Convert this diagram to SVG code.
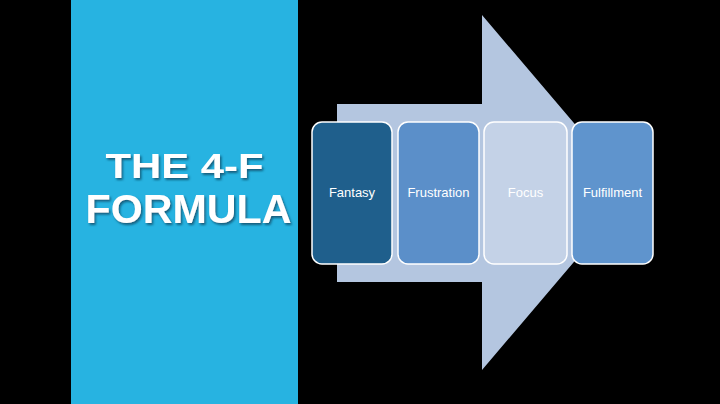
<svg xmlns="http://www.w3.org/2000/svg" width="720" height="404" viewBox="0 0 720 404">
  <defs>
    <filter id="shadow" x="-10%" y="-10%" width="120%" height="130%">
      <feDropShadow dx="1.5" dy="2" stdDeviation="1.2" flood-color="#0b4a66" flood-opacity="0.8"/>
    </filter>
  </defs>
  <style>
    .title { font-family: "Liberation Sans", Arial, sans-serif; font-weight: bold; fill: #ffffff; text-anchor: middle; }
    .box { stroke: #ffffff; stroke-width: 1.5; }
    .label { font-family: "Liberation Sans", Arial, sans-serif; font-size: 13px; fill: #ffffff; text-anchor: middle; }
  </style>
  <rect x="0" y="0" width="720" height="404" fill="#000000"/>
  <g id="panel">
    <rect x="71" y="0" width="227" height="404" fill="#27b3e1"/>
    <g filter="url(#shadow)">
      <text class="title" x="184.5" y="178" font-size="35" textLength="158" lengthAdjust="spacingAndGlyphs">THE 4-F</text>
      <text class="title" x="188.5" y="223" font-size="41" textLength="206" lengthAdjust="spacingAndGlyphs">FORMULA</text>
    </g>
  </g>
  <g id="connectors">
    <path d="M337,104 L482,104 L482,15 L633,192.5 L482,370 L482,282 L337,282 Z" fill="#b4c6e0"/>
  </g>
  <g id="fantasy">
    <rect class="box" x="312" y="122" width="80" height="142" rx="10" fill="#1f5f8c"/>
    <text class="label" x="352" y="197">Fantasy</text>
  </g>
  <g id="frustration">
    <rect class="box" x="398" y="122" width="81" height="142" rx="10" fill="#5b8fc9"/>
    <text class="label" x="438.5" y="197">Frustration</text>
  </g>
  <g id="focus">
    <rect class="box" x="484" y="122" width="83" height="142" rx="10" fill="#c4d2e7"/>
    <text class="label" x="525.5" y="197">Focus</text>
  </g>
  <g id="fulfillment">
    <rect class="box" x="572" y="122" width="81" height="142" rx="10" fill="#5f94cd"/>
    <text class="label" x="612.5" y="197">Fulfillment</text>
  </g>
</svg>
